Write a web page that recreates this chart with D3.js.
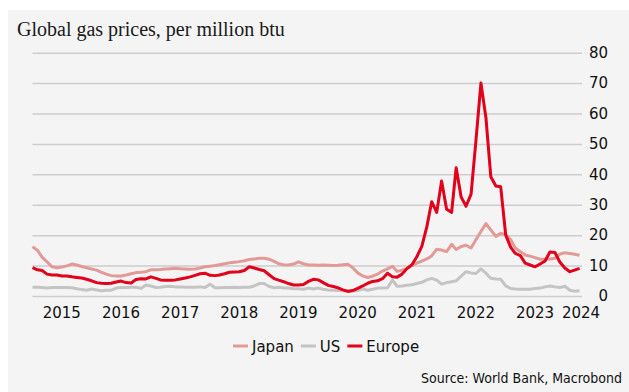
<!DOCTYPE html>
<html>
<head>
<meta charset="utf-8">
<script src="https://cdn.jsdelivr.net/npm/d3@7"></script>
<style>
body{margin:0;background:#fff;}
svg{display:block;font-family:"DejaVu Sans",sans-serif;}
</style>
</head>
<body>
<svg id="chart"></svg>
<script>
// monthly prices, Jan 2015 .. Apr 2024, $ per million btu
const years = [2015,2016,2017,2018,2019,2020,2021,2022,2023,2024];
const yTicks = [0,10,20,30,40,50,60,70,80];
const japan = [
  16.2,15.0,12.8,11.2,9.6,9.3,9.5,9.9,10.5,10.2,9.7,9.3,
  8.9,8.5,7.8,7.2,6.7,6.6,6.6,6.9,7.3,7.7,7.8,8.0,
  8.6,8.6,8.7,8.9,9.0,9.1,9.0,8.9,8.8,8.9,9.2,9.6,
  9.8,10.0,10.3,10.6,10.9,11.1,11.3,11.6,12.0,12.2,12.4,12.4,
  12.1,11.4,10.6,10.3,10.2,10.5,11.2,10.6,10.2,10.2,10.1,10.2,
  10.1,10.0,10.1,10.3,10.4,9.3,7.6,6.6,6.1,6.5,7.2,8.2,
  8.9,9.8,8.1,8.5,9.1,10.0,10.8,11.5,12.2,13.2,15.4,15.1,
  14.6,17.0,15.3,16.3,16.7,15.8,18.5,21.2,23.8,21.7,19.6,20.6,
  20.2,18.5,15.8,14.6,13.5,13.1,12.6,12.1,12.1,12.2,12.4,13.8,
  14.2,14.0,13.7,13.4
];
const us = [
  2.9,2.9,2.8,2.6,2.8,2.8,2.8,2.8,2.7,2.4,2.1,1.9,
  2.3,2.0,1.7,1.9,1.9,2.6,2.8,2.8,2.9,2.9,2.5,3.6,
  3.3,2.8,2.9,3.1,3.2,3.0,3.0,2.9,2.9,2.9,3.0,2.8,
  3.9,2.7,2.7,2.8,2.8,2.9,2.8,2.9,2.9,3.3,4.1,4.1,
  3.1,2.7,2.9,2.6,2.6,2.4,2.4,2.2,2.6,2.3,2.6,2.2,
  2.0,1.9,1.8,1.7,1.8,1.6,1.8,2.3,1.9,2.2,2.6,2.6,
  2.7,5.2,3.2,3.3,3.5,3.7,4.1,4.5,5.3,5.8,5.2,3.9,
  4.4,4.7,5.0,6.5,8.0,7.6,7.4,8.9,7.5,5.8,5.6,5.5,
  3.3,2.5,2.3,2.2,2.2,2.2,2.5,2.6,3.0,3.3,3.0,2.8,
  3.2,1.9,1.6,1.7
];
const europe = [
  9.3,8.6,8.4,7.2,6.9,6.9,6.6,6.6,6.3,6.1,5.9,5.5,
  5.0,4.4,4.2,4.1,4.2,4.6,4.9,4.4,4.3,5.4,5.7,5.6,
  6.3,5.8,5.3,5.2,5.2,5.3,5.6,5.9,6.3,6.8,7.3,7.5,
  6.8,6.7,6.9,7.3,7.8,7.9,8.0,8.4,9.6,9.2,8.7,8.3,
  7.0,5.7,5.2,4.7,4.1,3.6,3.6,3.8,4.8,5.5,5.3,4.4,
  3.5,3.1,2.7,2.0,1.5,1.8,2.5,3.3,4.2,4.8,5.0,5.7,
  7.5,6.3,6.2,7.2,9.0,10.3,12.9,16.3,22.8,31.0,27.5,37.8,
  28.5,27.5,42.2,32.5,29.5,33.5,51.0,70.0,58.5,39.2,36.2,35.9,
  20.0,16.0,14.0,13.3,10.8,10.2,9.6,10.5,11.5,14.5,14.3,11.2,
  9.2,8.0,8.5,9.1
];
const months = d3.timeMonth.range(new Date(2015,0,1), new Date(2024,4,1));

const series = [
  {name:'US', values:us, color:'#c4c4c4'},
  {name:'Japan', values:japan, color:'#e39a97'},
  {name:'Europe', values:europe, color:'#e3001b'}
];
const legendOrder = ['Japan','US','Europe'];

const width = 629, height = 392;
const svg = d3.select('#chart').attr('width', width).attr('height', height);

svg.append('rect')
  .attr('x', 8).attr('y', 10)
  .attr('width', width - 8).attr('height', height - 10)
  .attr('fill', '#f4f4f4');

svg.append('text')
  .attr('x', 17).attr('y', 36)
  .attr('font-family', '"Liberation Serif", serif')
  .attr('font-size', 20)
  .attr('fill', '#1a1a1a')
  .text('Global gas prices, per million btu');

const x = d3.scaleTime()
  .domain([new Date(2015,0,1), new Date(2024,3,16)])
  .range([32.5, 582]);
const y = d3.scaleLinear()
  .domain([0, 80])
  .range([296, 52.7]);

// gridlines + right axis
const yAxis = svg.append('g')
  .attr('transform', `translate(${x.range()[1]},0)`)
  .call(d3.axisRight(y).tickValues(yTicks).tickSize(-(x.range()[1] - x.range()[0])).tickPadding(26))
  .call(g => g.select('.domain').remove());
yAxis.selectAll('.tick line').attr('stroke', '#cdcdcd').attr('stroke-width', 1.5);
yAxis.selectAll('.tick text')
  .attr('text-anchor', 'end')
  .attr('font-size', 15)
  .attr('fill', '#111')
  .attr('font-family', '"DejaVu Sans", sans-serif');

// year labels centred on each year
const xAxis = svg.append('g')
  .attr('transform', `translate(0,${y(0)})`)
  .call(d3.axisBottom(x)
    .tickValues(years.map(yr => new Date(yr,6,1)))
    .tickFormat(d3.timeFormat('%Y'))
    .tickSize(0).tickPadding(11))
  .call(g => g.select('.domain').remove());
xAxis.selectAll('.tick text')
  .attr('font-size', 15)
  .attr('fill', '#111')
  .attr('font-family', '"DejaVu Sans", sans-serif');
xAxis.selectAll('.tick')
  .attr('transform', d => `translate(${Math.min(x(d), x.range()[1] - 1)},0)`);

const line = d3.line()
  .x((d, i) => x(months[i]))
  .y(d => y(d));

svg.append('g')
  .selectAll('path')
  .data(series)
  .join('path')
  .attr('d', d => line(d.values))
  .attr('fill', 'none')
  .attr('stroke', d => d.color)
  .attr('stroke-width', 3)
  .attr('stroke-linejoin', 'round');

// legend
const legend = svg.append('g').attr('font-size', 15).attr('fill', '#111');
let lx = 233;
legendOrder.forEach(name => {
  const s = series.find(e => e.name === name);
  legend.append('line')
    .attr('x1', lx).attr('x2', lx + 15)
    .attr('y1', 346).attr('y2', 346)
    .attr('stroke', s.color).attr('stroke-width', 3);
  const t = legend.append('text')
    .attr('x', lx + 19).attr('y', 351.5)
    .text(name);
  lx += 19 + t.node().getComputedTextLength() + 7;
});

svg.append('text')
  .attr('x', 622).attr('y', 383)
  .attr('text-anchor', 'end')
  .attr('font-family', '"DejaVu Sans Condensed", "DejaVu Sans", sans-serif')
  .attr('font-stretch', 'condensed')
  .attr('font-size', 14)
  .attr('fill', '#111')
  .text('Source: World Bank, Macrobond');
</script>
</body>
</html>
